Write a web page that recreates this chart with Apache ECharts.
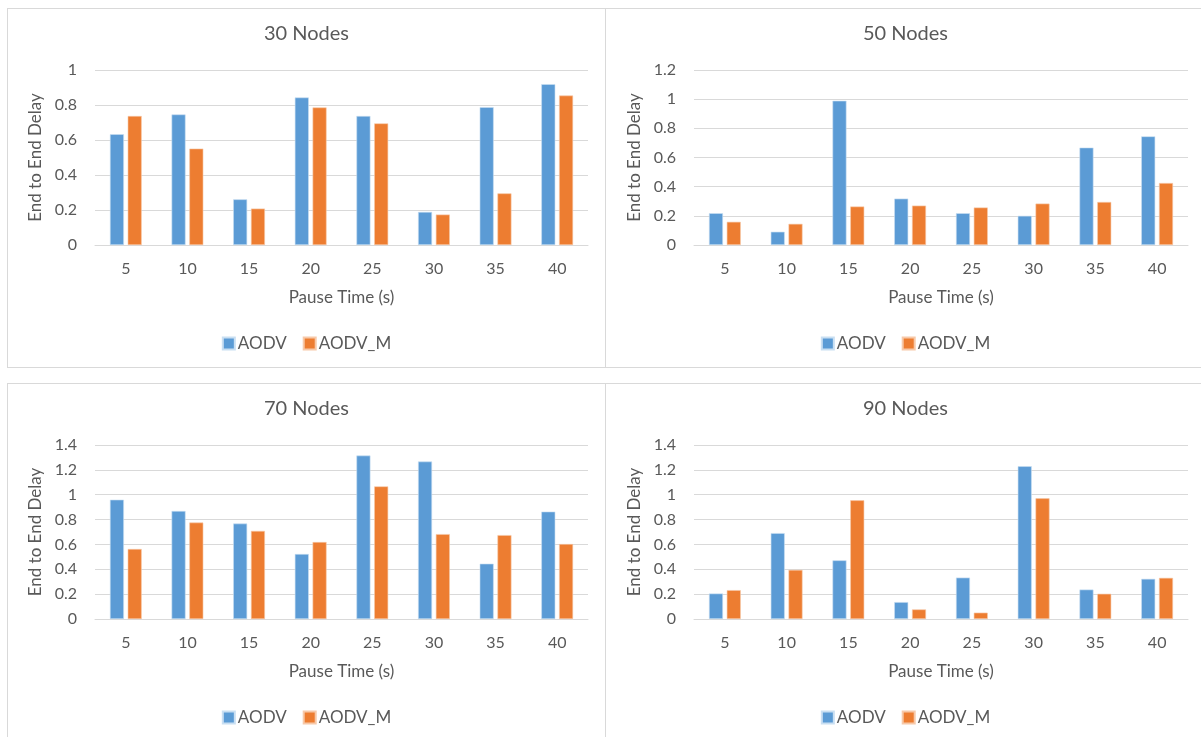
<!DOCTYPE html>
<html>
<head>
<meta charset="utf-8">
<script src="https://cdn.jsdelivr.net/npm/echarts@6/dist/echarts.min.js"></script>
<style>
  html, body { margin: 0; padding: 0; background: #fff; overflow: hidden; }
  body { width: 1201px; height: 737px; position: relative; }
  .panel { position: absolute; box-sizing: border-box; border: 1px solid #d9d9d9; background: #fff; }
</style>
</head>
<body>
<div id="p30" class="panel" style="left:7px;top:8px;width:599px;height:360px;"></div>
<div id="p50" class="panel" style="left:605px;top:8px;width:601px;height:360px;"></div>
<div id="p70" class="panel" style="left:7px;top:383px;width:599px;height:362px;"></div>
<div id="p90" class="panel" style="left:605px;top:383px;width:601px;height:362px;"></div>

<script>
// pause time categories
const pauseTimes = ['5', '10', '15', '20', '25', '30', '35', '40']
const seriesNames = ['AODV', 'AODV_M']

// end to end delay
const aodv30 = [0.633, 0.746, 0.261, 0.843, 0.737, 0.189, 0.788, 0.919]
const aodvM30 = [0.737, 0.551, 0.208, 0.786, 0.695, 0.174, 0.295, 0.854]

const aodv50 = [0.218, 0.091, 0.989, 0.318, 0.218, 0.200, 0.668, 0.745]
const aodvM50 = [0.159, 0.145, 0.264, 0.270, 0.257, 0.284, 0.295, 0.425]

const aodv70 = [0.960, 0.869, 0.768, 0.523, 1.315, 1.267, 0.445, 0.864]
const aodvM70 = [0.563, 0.776, 0.709, 0.619, 1.067, 0.683, 0.675, 0.603]

const aodv90 = [0.205, 0.691, 0.472, 0.136, 0.333, 1.229, 0.237, 0.323]
const aodvM90 = [0.232, 0.395, 0.955, 0.077, 0.051, 0.971, 0.203, 0.331]

const FONT = 'Lato'
const TXT = '#595959'

function initPanel(id, title, yMax, blue, orange, grid) {
  const chart = echarts.init(document.getElementById(id))
  chart.setOption({
    animation: false,
    textStyle: { fontFamily: FONT, color: TXT },
    title: {
      text: title,
      left: 'center',
      top: 10,
      textStyle: { fontFamily: FONT, fontSize: 20, fontWeight: 'normal', color: TXT }
    },
    legend: {
      data: seriesNames,
      left: 'center',
      top: grid.legendTop,
      icon: 'rect',
      itemWidth: 12,
      itemHeight: 12,
      itemGap: 16,
      textStyle: { fontFamily: FONT, fontSize: 17, color: TXT, padding: [0, 0, 0, -2] }
    },
    grid: {
      left: grid.left,
      right: 17,
      top: 61,
      bottom: grid.bottom
    },
    xAxis: {
      type: 'category',
      data: pauseTimes,
      name: 'Pause Time (s)',
      nameLocation: 'middle',
      nameGap: 44,
      nameTextStyle: { fontFamily: FONT, fontSize: 17, color: TXT },
      axisLine: { lineStyle: { color: '#d9d9d9' } },
      axisTick: { show: false },
      axisLabel: { margin: 16, fontFamily: FONT, fontSize: 16, color: TXT }
    },
    yAxis: {
      type: 'value',
      min: 0,
      max: yMax,
      interval: 0.2,
      name: 'End to End Delay',
      nameLocation: 'middle',
      nameGap: 44,
      nameTextStyle: { fontFamily: FONT, fontSize: 17, color: TXT },
      axisLine: { show: false },
      axisTick: { show: false },
      axisLabel: { margin: 18, fontFamily: FONT, fontSize: 16, color: TXT },
      splitLine: { lineStyle: { color: '#d9d9d9' } }
    },
    series: [
      {
        name: seriesNames[0],
        type: 'bar',
        data: blue,
        barWidth: 14,
        barGap: '27%',
        itemStyle: { color: '#5b9bd5', borderColor: '#c9dff2', borderWidth: 0.6 }
      },
      {
        name: seriesNames[1],
        type: 'bar',
        data: orange,
        barWidth: 14,
        itemStyle: { color: '#ed7d31', borderColor: '#f7c9a9', borderWidth: 0.6 }
      }
    ]
  })
}

initPanel('p30', '30 Nodes', 1, aodv30, aodvM30, { left: 87, bottom: 122, legendTop: 321 })
initPanel('p50', '50 Nodes', 1.2, aodv50, aodvM50, { left: 88, bottom: 122, legendTop: 321 })
initPanel('p70', '70 Nodes', 1.4, aodv70, aodvM70, { left: 87, bottom: 125, legendTop: 320 })
initPanel('p90', '90 Nodes', 1.4, aodv90, aodvM90, { left: 88, bottom: 125, legendTop: 320 })
</script>
</body>
</html>
